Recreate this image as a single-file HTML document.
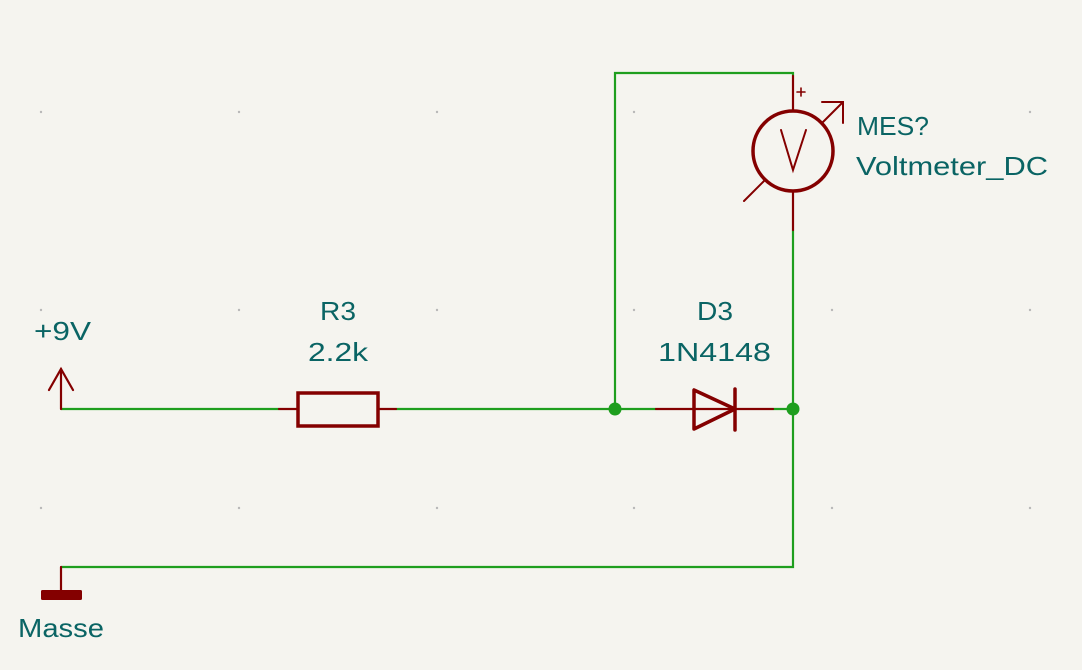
<!DOCTYPE html>
<html><head><meta charset="utf-8"><style>html,body{margin:0;padding:0;background:#f5f4ef;}svg{display:block}</style></head>
<body>
<svg width="1082" height="670" viewBox="0 0 1082 670" xmlns="http://www.w3.org/2000/svg">
<rect width="1082" height="670" fill="#f5f4ef"/>
<g fill="#b8b8b8">
<circle cx="41" cy="112" r="1.2"/><circle cx="239" cy="112" r="1.2"/><circle cx="437" cy="112" r="1.2"/><circle cx="634" cy="112" r="1.2"/><circle cx="1030" cy="112" r="1.2"/>
<circle cx="41" cy="310" r="1.2"/><circle cx="239" cy="310" r="1.2"/><circle cx="437" cy="310" r="1.2"/><circle cx="634" cy="310" r="1.2"/><circle cx="832" cy="310" r="1.2"/><circle cx="1030" cy="310" r="1.2"/>
<circle cx="41" cy="508" r="1.2"/><circle cx="239" cy="508" r="1.2"/><circle cx="437" cy="508" r="1.2"/><circle cx="634" cy="508" r="1.2"/><circle cx="832" cy="508" r="1.2"/><circle cx="1030" cy="508" r="1.2"/>
</g>
<g stroke="#1e9e1e" stroke-width="2.2" fill="none">
<polyline points="61,409 279,409"/>
<polyline points="396,409 656,409"/>
<polyline points="773,409 793,409"/>
<polyline points="615,409 615,73 793,73 793,76"/>
<polyline points="793,230 793,567 61,567"/>
</g>
<g fill="#1e9e1e"><circle cx="615" cy="409" r="6.5"/><circle cx="793" cy="409" r="6.5"/></g>
<g stroke="#840000" fill="none" stroke-linecap="round">
<line x1="61" y1="409" x2="61" y2="369" stroke-width="2.2"/>
<polyline points="49,390 61,369 73,390" stroke-width="2.2"/>
<line x1="279" y1="409" x2="297" y2="409" stroke-width="2.2"/>
<line x1="378" y1="409" x2="396" y2="409" stroke-width="2.2"/>
<rect x="298" y="393" width="80" height="33" stroke-width="3.5"/>
<line x1="656" y1="409" x2="773" y2="409" stroke-width="2.2"/>
<polygon points="694,390 694,429 735,409" stroke-width="3.5" stroke-linejoin="round"/>
<line x1="735" y1="389" x2="735" y2="430" stroke-width="3.5"/>
<line x1="793" y1="76" x2="793" y2="111" stroke-width="2.2"/>
<line x1="793" y1="191" x2="793" y2="230" stroke-width="2.2"/>
<circle cx="793" cy="151" r="40" stroke-width="3.5"/>
<polyline points="781,130 793,170 806,130" stroke-width="2"/>
<line x1="744" y1="201" x2="764" y2="181" stroke-width="2"/>
<line x1="822" y1="123" x2="843" y2="102" stroke-width="2"/>
<polyline points="822,102 843,102 843,123" stroke-width="2"/>
<line x1="797" y1="92" x2="805" y2="92" stroke-width="1.6"/>
<line x1="801" y1="88" x2="801" y2="96" stroke-width="1.6"/>
<line x1="61" y1="567" x2="61" y2="590" stroke-width="2.2"/>
</g>
<rect x="41" y="590" width="41" height="10" rx="1.5" fill="#840000"/>
<g fill="#0a6464" font-family="Liberation Sans, sans-serif" font-size="26">
<text x="857" y="135" textLength="72" lengthAdjust="spacingAndGlyphs">MES?</text>
<text x="856" y="175" textLength="192" lengthAdjust="spacingAndGlyphs">Voltmeter_DC</text>
<text x="320" y="320" textLength="36" lengthAdjust="spacingAndGlyphs">R3</text>
<text x="308" y="361" textLength="60" lengthAdjust="spacingAndGlyphs">2.2k</text>
<text x="697" y="320" textLength="36" lengthAdjust="spacingAndGlyphs">D3</text>
<text x="658" y="361" textLength="113" lengthAdjust="spacingAndGlyphs">1N4148</text>
<text x="34" y="340" textLength="57" lengthAdjust="spacingAndGlyphs">+9V</text>
<text x="18" y="637" textLength="86" lengthAdjust="spacingAndGlyphs">Masse</text>
</g>
</svg>
</body></html>
